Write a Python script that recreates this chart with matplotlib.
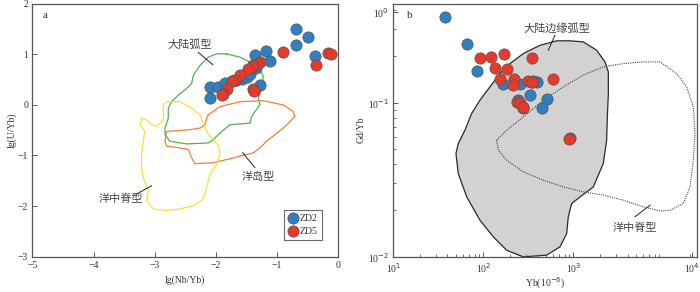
import numpy as np
import matplotlib
matplotlib.use("Agg")
import matplotlib.pyplot as plt
from matplotlib.patches import Polygon

plt.rcParams['font.family'] = ['Liberation Serif', 'Noto Sans CJK SC']
plt.rcParams['axes.unicode_minus'] = True

# ---- panel a data: lg(Nb/Yb) vs lg(U/Yb)
zd2_a_x = [-0.691, -0.50, -0.696, -0.376, -1.181, -1.116, -1.361, -2.096, -2.096, -1.97,
           -1.851, -1.742, -1.578, -1.497, -1.443, -1.279, -1.35, -1.67]
zd2_a_y = [1.497, 1.335, 1.192, 0.957, 1.074, 0.865, 0.977, 0.356, 0.141, 0.356,
           0.44, 0.474, 0.519, 0.552, 0.61, 0.39, 0.73, 0.49]
zd5_a_x = [-0.909, -0.163, -0.12, -0.369, -1.279, -1.333, -1.39, -1.415, -1.475, -1.606,
           -1.688, -1.737, -1.824, -1.879, -1.905, -1.389, -1.377]
zd5_a_y = [1.041, 1.027, 1.008, 0.781, 0.845, 0.812, 0.787, 0.748, 0.708, 0.597,
           0.487, 0.474, 0.323, 0.225, 0.194, 0.323, 0.284]

# field outlines (panel a)
arc_x = [-1.825, -1.607, -1.389, -1.28, -1.225, -1.253, -1.307, -1.28, -1.362, -1.416,
         -1.443, -1.77, -1.934, -2.042, -2.124, -2.478, -2.751, -2.832, -2.832, -2.778,
         -2.778, -2.723, -2.614, -2.478, -2.397, -2.369, -2.26, -2.124, -1.988]
arc_y = [1.009, 0.944, 0.814, 0.716, 0.553, 0.325, 0.129, -0.001, -0.132, -0.229,
         -0.36, -0.392, -0.555, -0.686, -0.751, -0.771, -0.718, -0.588, -0.458, -0.262,
         -0.066, 0.064, 0.194, 0.325, 0.422, 0.585, 0.781, 0.944, 1.009]
oib_x = [-2.124, -1.934, -1.607, -1.225, -0.899, -0.735, -0.708, -0.79, -0.899, -1.035,
         -1.171, -1.28, -1.389, -1.498, -1.607, -1.879, -2.042, -2.342, -2.397, -2.451,
         -2.587, -2.805, -2.832, -2.805, -2.642, -2.424, -2.26, -2.179, -2.151]
oib_y = [-0.197, -0.034, 0.064, 0.083, -0.001, -0.132, -0.229, -0.327, -0.458, -0.588,
         -0.718, -0.849, -0.947, -0.979, -1.012, -1.097, -1.142, -1.162, -1.044, -0.881,
         -0.849, -0.816, -0.718, -0.523, -0.51, -0.49, -0.458, -0.392, -0.262]
morb_x = [-2.859, -2.805, -2.587, -2.397, -2.26, -2.206, -2.151, -2.07, -1.961, -1.934,
          -1.988, -2.097, -2.151, -2.206, -2.369, -2.587, -2.805, -3.023, -3.132, -3.105,
          -3.186, -3.214, -3.214, -3.186, -3.159, -3.241, -3.214, -3.132, -3.05, -2.968,
          -2.859, -2.859]
morb_y = [-0.001, 0.064, 0.064, -0.066, -0.197, -0.36, -0.523, -0.653, -0.784, -0.979,
          -1.175, -1.37, -1.631, -1.859, -1.99, -2.055, -2.087, -2.055, -1.892, -1.696,
          -1.435, -1.24, -0.979, -0.718, -0.523, -0.392, -0.262, -0.295, -0.392, -0.425,
          -0.295, -0.132]

# ---- panel b data: Yb (ppm) vs Gd/Yb
zd2_b_x = [37.5, 65.5, 84.5, 167, 256, 392, 330, 506, 445, 245, 278, 918, 345, 360]
zd2_b_y = [0.36, 0.242, 0.16, 0.133, 0.133, 0.136, 0.112, 0.106, 0.093, 0.104, 0.092, 0.059, 0.137, 0.138]
zd5_b_x = [91.8, 122, 170, 350, 135, 182, 153, 221, 212, 316, 345, 600, 235, 256, 278, 903]
zd5_b_y = [0.194, 0.198, 0.208, 0.196, 0.168, 0.165, 0.143, 0.142, 0.131, 0.138, 0.136, 0.142,
           0.101, 0.099, 0.094, 0.058]

# field outlines (panel b), stored as log10 values
cmarc_lx = [2.963, 3.111, 3.259, 3.352, 3.389, 3.389, 3.378, 3.37, 3.333, 3.222, 3.074, 2.981,
            2.944, 2.926, 2.852, 2.704, 2.444, 2.259, 2.111, 1.963, 1.815, 1.722, 1.696, 1.722,
            1.796, 1.87, 1.963, 2.074, 2.185, 2.296, 2.444, 2.63, 2.815]
cmarc_ly = [-0.598, -0.605, -0.659, -0.735, -0.8, -0.94, -1.092, -1.244, -1.395, -1.547, -1.612,
            -1.655, -1.741, -1.85, -1.936, -1.99, -2.001, -1.958, -1.871, -1.763, -1.611, -1.46,
            -1.33, -1.265, -1.178, -1.07, -0.983, -0.897, -0.81, -0.746, -0.681, -0.627, -0.598]
morbb_lx = [2.148, 2.259, 2.444, 2.667, 2.889, 3.111, 3.333, 3.556, 3.778, 3.963, 4.148, 4.259,
            4.333, 4.352, 4.333, 4.296, 4.222, 4.074, 3.963, 3.778, 3.556, 3.333, 3.111, 2.889,
            2.667, 2.444, 2.259, 2.167, 2.148]
morbb_ly = [-1.244, -1.179, -1.092, -0.984, -0.897, -0.821, -0.767, -0.746, -0.735, -0.735,
            -0.811, -0.897, -1.027, -1.2, -1.373, -1.547, -1.655, -1.698, -1.703, -1.676,
            -1.633, -1.6, -1.579, -1.547, -1.503, -1.449, -1.373, -1.308, -1.244]

blue = '#2f7fc1'
red = '#e8392b'
edge = '#555555'
spine_c = '#555555'
txt_c = '#333333'
cjk_c = '#444444'
msize = 66

fig = plt.figure(figsize=(7, 2.92), dpi=100)
ax1 = fig.add_axes([32.3 / 700, 35.3 / 292, 306 / 700, 253 / 292])
ax2 = fig.add_axes([393.3 / 700, 35.3 / 292, 303.7 / 700, 253 / 292])

for ax in (ax1, ax2):
    for s in ax.spines.values():
        s.set_color(spine_c)
        s.set_linewidth(0.9)
    ax.tick_params(direction='in', length=3.5, width=0.7, color=spine_c,
                   labelsize=7, labelcolor=txt_c, pad=3)
    ax.tick_params(which='minor', direction='in', length=2.2, width=0.6, color=spine_c)

# ----- panel a
ax1.plot(arc_x + arc_x[:1], arc_y + arc_y[:1], color='#55b04f', lw=0.9)
ax1.plot(oib_x + oib_x[:1], oib_y + oib_y[:1], color='#f57f3b', lw=0.9)
ax1.plot(morb_x + morb_x[:1], morb_y + morb_y[:1], color='#f3e33c', lw=0.9)
ax1.scatter(zd2_a_x, zd2_a_y, s=msize, c=blue, edgecolors=edge, linewidths=0.5, zorder=3, label='ZD2')
ax1.scatter(zd5_a_x, zd5_a_y, s=msize, c=red, edgecolors=edge, linewidths=0.5, zorder=4, label='ZD5')
ax1.set_xlim(-5, 0)
ax1.set_ylim(-3, 2)
ax1.set_xticks([-5, -4, -3, -2, -1, 0])
ax1.set_yticks([-3, -2, -1, 0, 1, 2])
ax1.set_xlabel('lg(Nb/Yb)', fontsize=7, color=txt_c, labelpad=4)
ax1.set_ylabel('lg(U/Yb)', fontsize=7, color=txt_c, labelpad=1)
ax1.text(-4.79, 1.77, 'a', fontsize=8, color=txt_c, ha='center', va='center')

ax1.text(-2.42, 1.19, '大陆弧型', fontsize=8, color=cjk_c, ha='center', va='center')
ax1.plot([-2.29, -2.05], [1.041, 0.793], color='#222222', lw=0.7)
ax1.text(-1.31, -1.43, '洋岛型', fontsize=8, color=cjk_c, ha='center', va='center')
ax1.plot([-1.563, -1.362], [-0.947, -1.24], color='#222222', lw=0.7)
ax1.text(-3.55, -1.86, '洋中脊型', fontsize=8, color=cjk_c, ha='center', va='center')
ax1.plot([-3.295, -3.05], [-1.761, -1.598], color='#222222', lw=0.7)

leg = ax1.legend(loc='lower right', bbox_to_anchor=(0.947, 0.065), fontsize=7,
                 frameon=True, fancybox=False, handletextpad=0.2, borderpad=0.45,
                 labelspacing=0.4, handlelength=1.0, borderaxespad=0)
leg.get_frame().set_edgecolor('#444444')
leg.get_frame().set_linewidth(0.8)
for t in leg.get_texts():
    t.set_color(txt_c)

# ----- panel b
ax2.set_xscale('log')
ax2.set_yscale('log')
ax2.add_patch(Polygon(np.column_stack([10 ** np.array(cmarc_lx), 10 ** np.array(cmarc_ly)]),
                      closed=True, facecolor='#d4d1d1', edgecolor='#2a2a2a', lw=0.9, zorder=1))
ax2.add_patch(Polygon(np.column_stack([10 ** np.array(morbb_lx), 10 ** np.array(morbb_ly)]),
                      closed=True, fill=False, edgecolor='#444444', lw=0.8, ls=(0, (1, 1)), zorder=2))
ax2.scatter(zd2_b_x, zd2_b_y, s=msize, c=blue, edgecolors=edge, linewidths=0.5, zorder=3)
ax2.scatter(zd5_b_x, zd5_b_y, s=msize, c=red, edgecolors=edge, linewidths=0.5, zorder=4)
ax2.set_xlim(10, 10 ** 4.374)
ax2.set_ylim(0.01, 10 ** -0.357)
ax2.set_xticks([10, 100, 1000, 10 ** 4.316])
ax2.set_xticklabels(['10$^{1}$', '10$^{2}$', '10$^{3}$', '10$^{4}$'])
ax2.set_yticks([0.01, 0.1, 10 ** -0.41])
ax2.set_yticklabels(['10$^{-2}$', '10$^{-1}$', '10$^{0}$'])
ax2.set_xlabel('Yb(10$^{-6}$)', fontsize=7, color=txt_c, labelpad=1)
ax2.set_ylabel('Gd/Yb', fontsize=7, color=txt_c, labelpad=2)
ax2.text(15.1, 0.37, 'b', fontsize=8, color=txt_c, ha='center', va='center')

ax2.text(653, 0.303, '大陆边缘弧型', fontsize=8, color=cjk_c, ha='center', va='center')
ax2.plot([625, 527], [0.274, 0.219], color='#222222', lw=0.7)
ax2.text(4842, 0.0154, '洋中脊型', fontsize=8, color=cjk_c, ha='center', va='center')
ax2.plot([4842, 7112], [0.01815, 0.0216], color='#222222', lw=0.7)

fig.savefig('out.png', dpi=100)
